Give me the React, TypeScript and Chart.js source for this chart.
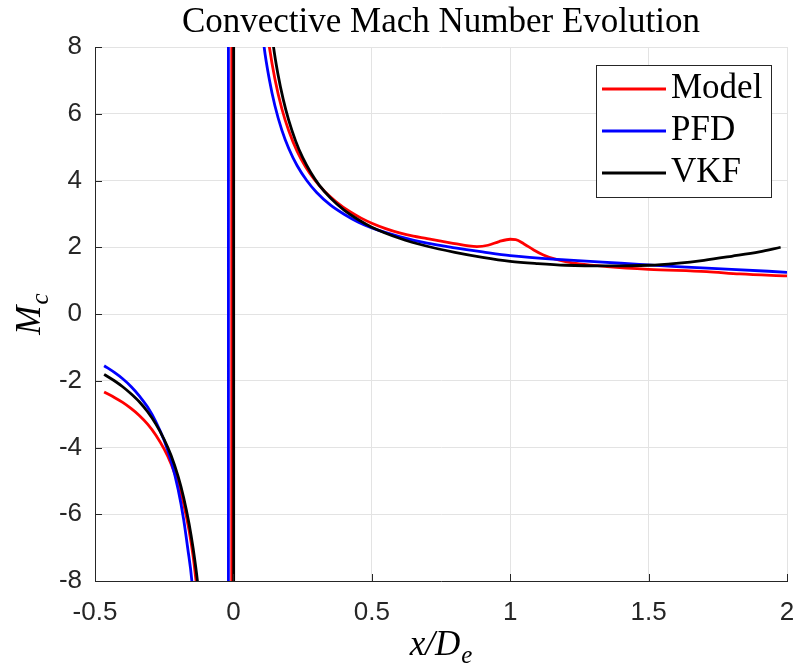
import React, { useEffect, useRef } from "react";
import { Chart, registerables } from "chart.js";

Chart.register(...registerables);

const chartTitle = "Convective Mach Number Evolution";
const seriesLabels = ["Model", "PFD", "VKF"];
const seriesColors = ["#ff0000", "#0000ff", "#000000"];

// Model (red)
const modelX = [
  -0.467, -0.43, -0.4, -0.37, -0.34, -0.31, -0.28, -0.25, -0.225, -0.2, -0.18, -0.16, -0.145, -0.135, -0.12,
  -0.1, -0.08, -0.06, -0.045, -0.02, -0.0065, -0.0055, 0.03, 0.06, 0.09, 0.11, 0.13, 0.15, 0.175, 0.2, 0.23,
  0.26, 0.295, 0.33, 0.37, 0.42, 0.46, 0.5, 0.55, 0.6, 0.65, 0.7, 0.75, 0.8, 0.85, 0.88, 0.92, 0.96, 1.0,
  1.02, 1.05, 1.085, 1.12, 1.16, 1.2, 1.25, 1.35, 1.5, 1.71, 1.83, 2.0,
];
const modelY = [
  -2.34, -2.5, -2.65, -2.83, -3.04, -3.3, -3.63, -4.05, -4.49, -5.07, -5.68, -6.49, -7.29, -8.0, -9.24,
  -11.9, -16.9, -29.9, -74, -150, -900, 900, 33.4, 16.6, 11.2, 9.3, 8.0, 7.04, 6.15, 5.49, 4.88,
  4.42, 4.0, 3.67, 3.37, 3.07, 2.88, 2.72, 2.56, 2.43, 2.33, 2.26, 2.18, 2.11, 2.04, 2.02, 2.06, 2.17, 2.24,
  2.23, 2.1, 1.92, 1.77, 1.65, 1.57, 1.5, 1.42, 1.34, 1.27, 1.2, 1.14,
];

// PFD (blue)
const pfdX = [
  -0.467, -0.43, -0.4, -0.37, -0.34, -0.31, -0.28, -0.25, -0.225, -0.2, -0.18, -0.165, -0.15, -0.13, -0.11,
  -0.09, -0.07, -0.055, -0.0185, -0.0175, 0.02, 0.05, 0.08, 0.111, 0.13, 0.15, 0.175, 0.2, 0.23, 0.265, 0.3,
  0.35, 0.4, 0.45, 0.5, 0.6, 0.7, 0.8, 0.9, 1.0, 1.2, 1.4, 1.6, 1.8, 2.0,
];
const pfdY = [
  -1.55, -1.75, -1.94, -2.17, -2.45, -2.79, -3.23, -3.79, -4.41, -5.24, -6.14, -7.02, -8.0, -10.4, -14.2,
  -21.9, -47, -280, -900, 900, 32.3, 15.6, 10.5, 8.0, 7.02, 6.24, 5.51, 4.96, 4.45, 4.0, 3.65,
  3.27, 2.99, 2.76, 2.58, 2.32, 2.12, 1.98, 1.86, 1.75, 1.62, 1.52, 1.42, 1.34, 1.25,
];

// VKF (black)
const vkfX = [
  -0.467, -0.43, -0.4, -0.37, -0.34, -0.31, -0.28, -0.25, -0.225, -0.2, -0.18, -0.16, -0.145, -0.13, -0.11,
  -0.09, -0.07, -0.05, -0.03, 0.0005, 0.0015, 0.03, 0.06, 0.09, 0.12, 0.145, 0.16, 0.18, 0.2, 0.225, 0.25,
  0.28, 0.31, 0.35, 0.4, 0.45, 0.5, 0.6, 0.7, 0.8, 0.9, 1.0, 1.1, 1.2, 1.35, 1.5, 1.6, 1.7, 1.8, 1.9, 1.977,
];
const vkfY = [
  -1.81, -2.0, -2.18, -2.39, -2.63, -2.93, -3.3, -3.76, -4.24, -4.86, -5.49, -6.29, -7.05, -8.0, -9.8,
  -12.5, -17.2, -27.3, -65.4, -900, 900, 72.6, 22.5, 13.5, 9.79, 8.0, 7.23, 6.43, 5.8, 5.18, 4.69,
  4.23, 3.86, 3.48, 3.11, 2.83, 2.6, 2.27, 2.03, 1.85, 1.7, 1.58, 1.51, 1.46, 1.44, 1.46, 1.52, 1.61, 1.73, 1.86, 2.0,
];

const xMin = -0.5;
const xMax = 2;
const xStep = 0.5;
const yMin = -8;
const yMax = 8;
const yStep = 2;

const toPoints = (xs: number[], ys: number[]) => xs.map((x, i) => ({ x, y: ys[i] }));
const fmt = (v: number) => String(Math.round(v * 10) / 10);

const SERIF = '"Liberation Serif", "Times New Roman", serif';
const SANS = '"Liberation Sans", Arial, Helvetica, sans-serif';
const AXIS_COLOR = "#262626";

function drawMath(ctx: CanvasRenderingContext2D, main: string, sub: string, size: number) {
  ctx.font = `italic ${size}px ${SERIF}`;
  const wMain = ctx.measureText(main).width;
  const subSize = Math.round(size * 0.7);
  ctx.font = `italic ${subSize}px ${SERIF}`;
  const wSub = ctx.measureText(sub).width;
  const total = wMain + 1 + wSub;
  const sx = -total / 2;
  ctx.textAlign = "left";
  ctx.textBaseline = "alphabetic";
  ctx.fillStyle = "#000";
  ctx.font = `italic ${size}px ${SERIF}`;
  ctx.fillText(main, sx, 0);
  ctx.font = `italic ${subSize}px ${SERIF}`;
  ctx.fillText(sub, sx + wMain + 1, size * 0.22);
}

const decorPlugin = {
  id: "decor",
  afterDraw(chart: any) {
    const ctx: CanvasRenderingContext2D = chart.ctx;
    const area = chart.chartArea;
    const xs = chart.scales.x;
    const ys = chart.scales.y;
    ctx.save();

    // inward tick marks
    ctx.strokeStyle = AXIS_COLOR;
    ctx.lineWidth = 1;
    ctx.beginPath();
    xs.ticks.forEach((t: any) => {
      const px = Math.round(xs.getPixelForValue(t.value)) + 0.5;
      ctx.moveTo(px, area.bottom);
      ctx.lineTo(px, area.bottom - 7);
    });
    ys.ticks.forEach((t: any) => {
      const py = Math.round(ys.getPixelForValue(t.value)) + 0.5;
      ctx.moveTo(area.left, py);
      ctx.lineTo(area.left + 7, py);
    });
    ctx.stroke();

    // title
    const cx = (area.left + area.right) / 2;
    ctx.fillStyle = "#000";
    ctx.font = `35px ${SERIF}`;
    ctx.textAlign = "center";
    ctx.textBaseline = "alphabetic";
    ctx.fillText(chartTitle, cx, 32);

    // x label
    ctx.save();
    ctx.translate(cx, 655);
    drawMath(ctx, "x/D", "e", 35);
    ctx.restore();

    // y label
    ctx.save();
    ctx.translate(40, (area.top + area.bottom) / 2);
    ctx.rotate(-Math.PI / 2);
    drawMath(ctx, "M", "c", 35);
    ctx.restore();

    // legend
    const bx = 596, by = 65, bw = 175, bh = 132;
    ctx.fillStyle = "#ffffff";
    ctx.fillRect(bx, by, bw, bh);
    ctx.strokeStyle = "#262626";
    ctx.lineWidth = 1;
    ctx.strokeRect(bx + 0.5, by + 0.5, bw, bh);
    chart.data.datasets.forEach((ds: any, i: number) => {
      const ly = 89 + i * 42;
      ctx.strokeStyle = ds.borderColor;
      ctx.lineWidth = 3;
      ctx.beginPath();
      ctx.moveTo(602, ly);
      ctx.lineTo(666, ly);
      ctx.stroke();
      ctx.fillStyle = "#000";
      ctx.font = `35px ${SERIF}`;
      ctx.textAlign = "left";
      ctx.textBaseline = "alphabetic";
      ctx.fillText(ds.label, 671, ly + 9);
    });

    ctx.restore();
  },
};

export default function App() {
  const canvasRef = useRef<HTMLCanvasElement | null>(null);

  useEffect(() => {
    if (!canvasRef.current) return;
    const series = [
      { xs: modelX, ys: modelY },
      { xs: pfdX, ys: pfdY },
      { xs: vkfX, ys: vkfY },
    ];
    const chart = new Chart(canvasRef.current, {
      type: "line",
      data: {
        datasets: series.map((s, i) => ({
          label: seriesLabels[i],
          data: toPoints(s.xs, s.ys),
          borderColor: seriesColors[i],
          backgroundColor: seriesColors[i],
          borderWidth: 2.8,
          pointRadius: 0,
          fill: false,
          cubicInterpolationMode: "monotone" as const,
          order: 2 - i,
        })),
      },
      options: {
        animation: false,
        responsive: false,
        maintainAspectRatio: false,
        layout: { padding: { top: 47, right: 10, left: 0, bottom: 0 } },
        plugins: {
          legend: { display: false },
          title: { display: false },
          tooltip: { enabled: false },
        },
        scales: {
          x: {
            type: "linear",
            min: xMin,
            max: xMax,
            ticks: {
              stepSize: xStep,
              autoSkip: false,
              maxRotation: 0,
              padding: 16,
              color: AXIS_COLOR,
              font: { size: 26, family: SANS },
              callback: (v: any) => fmt(Number(v)),
            },
            grid: { color: "#e3e3e3", lineWidth: 1, drawTicks: false },
            border: { color: AXIS_COLOR, width: 1 },
            afterFit: (s: any) => {
              s.height = 89;
              s.paddingLeft = 0;
              s.paddingRight = 0;
            },
          },
          y: {
            type: "linear",
            min: yMin,
            max: yMax,
            ticks: {
              stepSize: yStep,
              autoSkip: false,
              padding: 13,
              color: AXIS_COLOR,
              font: { size: 26, family: SANS },
              callback: (v: any) => fmt(Number(v)),
            },
            grid: { color: "#e3e3e3", lineWidth: 1, drawTicks: false },
            border: { color: AXIS_COLOR, width: 1 },
            afterFit: (s: any) => {
              s.width = 95;
              s.paddingTop = 0;
              s.paddingBottom = 0;
            },
          },
        },
      },
      plugins: [decorPlugin],
    });
    return () => chart.destroy();
  }, []);

  return (
    <div style={{ position: "fixed", left: 0, top: 0, width: 797, height: 670, background: "#fff" }}>
      <canvas ref={canvasRef} width={797} height={670} style={{ display: "block" }} />
    </div>
  );
}
